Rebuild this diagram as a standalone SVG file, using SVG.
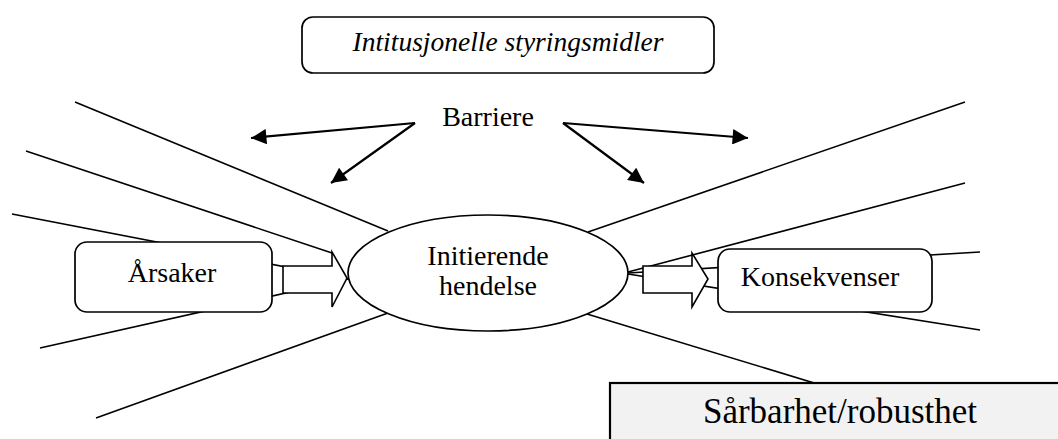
<svg xmlns="http://www.w3.org/2000/svg" width="1058" height="439" viewBox="0 0 1058 439">
  <style>
    .ray { stroke: #000; stroke-width: 1.6; fill: none; }
    .box { fill: #fff; stroke: #000; stroke-width: 1.7; }
    .blk { fill: #fff; stroke: #000; stroke-width: 1.6; stroke-linejoin: miter; }
    .bar { stroke: #000; stroke-width: 2.2; fill: none; marker-end: url(#tri); }
    .lbl { font-family: "Liberation Serif", "Times New Roman", serif; font-size: 28px; fill: #000; text-anchor: middle; }
  </style>
  <defs>
    <marker id="tri" viewBox="0 0 10 10" refX="10" refY="5" markerWidth="8.5" markerHeight="7" markerUnits="strokeWidth" orient="auto">
      <path d="M0,0 L10,5 L0,10 Z" fill="#000"/>
    </marker>
  </defs>
  <rect width="1058" height="439" fill="#fff"/>

  <!-- radiating lines and barrier arrows -->
  <g id="connectors">
    <line class="ray" x1="75" y1="102" x2="388" y2="231"/>
    <line class="ray" x1="26" y1="151" x2="332" y2="253"/>
    <line class="ray" x1="12" y1="214" x2="348" y2="279"/>
    <line class="ray" x1="40" y1="348" x2="348" y2="279"/>
    <line class="ray" x1="96" y1="418" x2="388" y2="313"/>
    <line class="ray" x1="965" y1="102" x2="588" y2="232"/>
    <line class="ray" x1="965" y1="183" x2="628" y2="272"/>
    <line class="ray" x1="980" y1="252" x2="628" y2="273"/>
    <line class="ray" x1="980" y1="330" x2="628" y2="274"/>
    <line class="ray" x1="587" y1="314" x2="870" y2="400"/>
    <polyline class="bar" points="415,123 251,138"/>
    <polyline class="bar" points="415,123 331,183"/>
    <polyline class="bar" points="563,123 748,138"/>
    <polyline class="bar" points="563,123 644,183"/>
  </g>

  <g id="event">
    <ellipse cx="488" cy="273" rx="140" ry="58" class="box"/>
    <text class="lbl" x="488" y="265">Initierende</text>
    <text class="lbl" x="488" y="295">hendelse</text>
  </g>

  <g id="cause-arrow">
    <path class="blk" d="M283,266 L332,266 L332,252 L347,278 L332,307 L332,293 L283,293 Z"/>
  </g>

  <g id="consequence-arrow">
    <path class="blk" d="M643,266 L692,266 L692,253 L708,279 L692,307 L692,293 L643,293 Z"/>
  </g>

  <g id="causes">
    <rect class="box" x="75" y="242" width="197" height="70" rx="12"/>
    <text class="lbl" x="172" y="282">Årsaker</text>
  </g>

  <g id="consequences">
    <rect class="box" x="718" y="249" width="214" height="63" rx="12"/>
    <text class="lbl" x="820" y="286">Konsekvenser</text>
  </g>

  <g id="institutions">
    <rect class="box" x="302" y="17" width="412" height="56" rx="11"/>
    <text class="lbl" x="508" y="51" style="font-style: italic; font-size: 27.5px">Intitusjonelle styringsmidler</text>
  </g>

  <g id="barrier">
    <text class="lbl" x="488" y="126">Barriere</text>
  </g>

  <g id="vulnerability">
    <rect x="610" y="383" width="460" height="70" fill="#f2f2f2" stroke="#000" stroke-width="2.2"/>
    <text class="lbl" x="840" y="423" style="font-size: 35px">Sårbarhet/robusthet</text>
  </g>
</svg>
